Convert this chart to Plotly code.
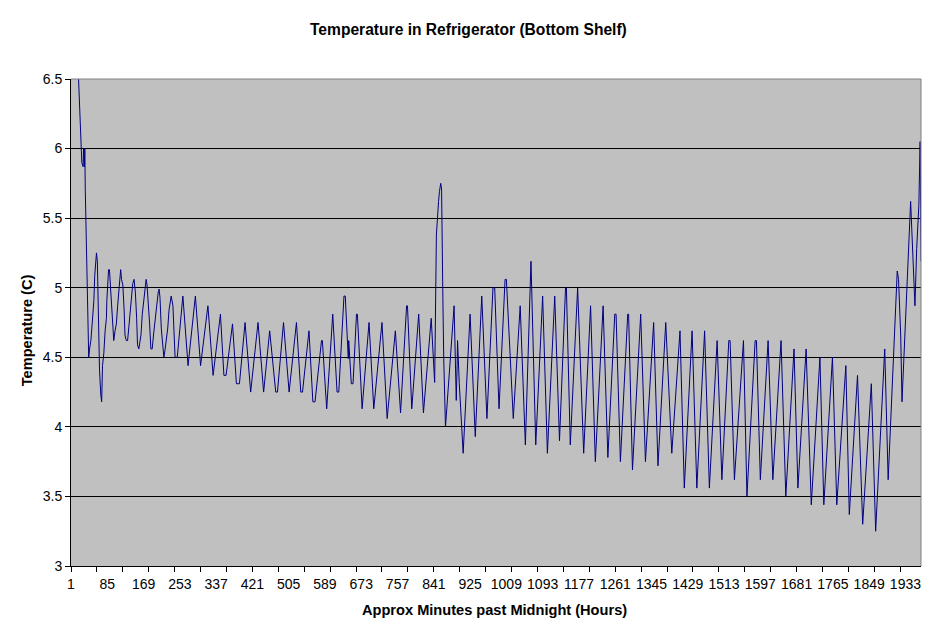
import plotly.graph_objects as go

# Approximate minutes past midnight (category index) and temperature readings (C),
# read off the reference at the turning points of each cycle.
minutes = [1, 18, 21, 24, 26, 29, 30, 32, 33, 34, 36, 38, 40, 42, 44, 47, 50, 52, 54, 56, 58, 60, 62, 64, 66, 67, 70, 72,
           74, 77, 80, 83, 84, 87, 88, 90, 93, 96, 98, 100, 103, 106, 109, 113, 116, 118, 121, 124, 126, 129, 132, 135,
           138, 142, 144, 147, 150, 153, 155, 158, 160, 163, 166, 170, 173, 175, 177, 180, 183, 186, 189, 192, 196, 199,
           203, 205, 207, 210, 213, 216, 219, 222, 225, 228, 231, 233, 237, 240, 242, 247,
           260, 272, 289, 301, 318, 330, 347, 355, 360, 375, 384, 391, 404, 417, 434, 447, 461, 475, 479, 493, 506,
           523, 533, 537, 552, 561, 566, 581, 583, 593, 607, 617, 621, 633, 636, 643, 644, 650, 654, 662, 664, 675,
           691, 702, 721, 733, 752, 764, 778, 780, 790, 806, 817, 835, 843, 847, 848, 850, 852, 854, 857, 859, 860,
           862, 864, 867, 868, 888, 892, 893, 895, 896, 900, 905, 909, 925, 937, 952, 964, 978, 982, 992, 1006, 1009,
           1025, 1041, 1053, 1066, 1077, 1093, 1104, 1121, 1132, 1146, 1148, 1157, 1174, 1188, 1204, 1215, 1233, 1244,
           1260, 1263, 1273, 1290, 1292, 1301, 1320, 1331, 1350, 1360, 1378, 1392, 1411, 1421, 1439, 1450, 1468, 1479,
           1497, 1508, 1524, 1527, 1537, 1558, 1566, 1585, 1588, 1597, 1615, 1626, 1645, 1656, 1675, 1684, 1703, 1715,
           1735, 1744, 1764, 1774, 1795, 1803, 1822, 1834, 1854, 1864, 1885, 1893, 1907, 1911, 1914, 1917, 1922, 1925,
           1943, 1945, 1955, 1959, 1964, 1967, 1969]
temps_c = [7.9, 6.52, 6.21, 6.04, 5.90, 5.87, 6.00, 5.87, 6.00, 5.71, 5.43, 5.12, 4.84, 4.50, 4.56, 4.62, 4.74, 4.81,
           4.91, 5.09, 5.15, 5.25, 5.19, 4.87, 4.62, 4.41, 4.23, 4.18,
           4.44, 4.53, 4.69, 4.78, 4.91, 5.03, 5.13, 5.13, 4.97, 4.80, 4.66, 4.62, 4.69, 4.74, 4.87, 5.03, 5.13, 5.06,
           5.02, 4.84, 4.66, 4.62, 4.62, 4.72,
           4.81, 4.97, 5.03, 5.06, 4.97, 4.78, 4.59, 4.56, 4.59, 4.66, 4.81, 4.91, 5.00, 5.06, 5.02, 4.91, 4.74, 4.56,
           4.56, 4.66, 4.78, 4.87,
           4.97, 4.99, 4.93, 4.71, 4.59, 4.50, 4.56, 4.62, 4.71, 4.84, 4.91, 4.94, 4.87, 4.66, 4.50, 4.50,
           4.94, 4.44, 4.94, 4.44, 4.87, 4.37, 4.81, 4.37, 4.37, 4.74, 4.31, 4.31, 4.75, 4.25, 4.75, 4.25, 4.69, 4.25,
           4.25, 4.75, 4.25,
           4.75, 4.25, 4.25, 4.69, 4.18, 4.18, 4.62, 4.62, 4.13, 4.81, 4.25, 4.25, 4.94, 4.94, 4.49, 4.62, 4.31, 4.31,
           4.81, 4.81, 4.13,
           4.75, 4.13, 4.75, 4.06, 4.69, 4.10, 4.87, 4.87, 4.13, 4.81, 4.10, 4.78, 4.32, 5.38, 5.44, 5.50, 5.62, 5.69,
           5.75, 5.71, 5.27,
           4.92, 4.49, 4.23, 4.00, 4.87, 4.44, 4.19, 4.44, 4.62, 4.31, 4.06, 3.81, 4.81, 3.93, 4.94, 4.06, 5.00, 5.00,
           4.13, 5.06, 5.06,
           4.06, 4.87, 3.87, 5.19, 3.87, 4.94, 3.81, 4.94, 3.90, 5.00, 5.00, 3.87, 5.00, 3.81, 4.87, 3.75, 4.87, 3.78,
           4.81, 4.81, 3.75, 4.81, 4.81, 3.69, 4.81, 3.75, 4.75, 3.72, 4.75, 3.81, 4.69, 3.56, 4.69, 3.56, 4.69, 3.56,
           4.62, 3.62, 4.62, 4.62, 3.62, 4.62, 3.50, 4.62, 4.62, 3.62, 4.62, 3.62, 4.62, 3.50, 4.56, 3.56, 4.56, 3.44,
           4.50, 3.44, 4.50, 3.44, 4.44, 3.37, 4.37, 3.30, 4.31, 3.25, 4.56, 3.62, 4.56, 4.87, 5.12, 5.06, 4.66, 4.18,
           5.55, 5.62, 4.87, 5.28, 5.59, 6.05, 5.19]

label_minutes = [1, 85, 169, 253, 337, 421, 505, 589, 673, 757, 841, 925, 1009, 1093, 1177, 1261, 1345, 1429,
                 1513, 1597, 1681, 1765, 1849, 1933]
label_text = [str(v) for v in label_minutes]
hour_ticks = list(range(1, 1969, 60))
y_ticks = [3, 3.5, 4, 4.5, 5, 5.5, 6, 6.5]

FONT = "Liberation Sans, Arial, sans-serif"
X_RANGE = [1, 1969]
TICK_SIZE = 14
TITLE_SIZE = 15.6
AXIS_TITLE_SIZE = 14.6

fig = go.Figure()
fig.add_trace(go.Scatter(x=minutes, y=temps_c, mode="lines",
                         line=dict(color="#000080", width=1), showlegend=False))
fig.add_trace(go.Scatter(x=[minutes[0]], y=[None], xaxis="x2", mode="lines",
                         showlegend=False, hoverinfo="skip"))

fig.update_layout(
    width=934, height=636,
    margin=dict(l=71, r=13, t=79, b=70),
    paper_bgcolor="white",
    plot_bgcolor="#C0C0C0",
    font=dict(family=FONT, size=TICK_SIZE, color="black"),
    xaxis=dict(range=X_RANGE, tickmode="array", tickvals=hour_ticks, ticks="outside", ticklen=5,
               tickcolor="black", showticklabels=False, showgrid=False, zeroline=False,
               showline=True, linecolor="black", linewidth=1),
    xaxis2=dict(range=X_RANGE, overlaying="x", anchor="y", side="bottom", tickmode="array",
                tickvals=label_minutes, ticktext=label_text, ticks="outside", ticklen=5,
                tickcolor="rgba(0,0,0,0)", showgrid=False, zeroline=False, showline=False,
                tickfont=dict(family=FONT, size=TICK_SIZE, color="black")),
    yaxis=dict(range=[3, 6.5], tickmode="array", tickvals=y_ticks, ticktext=[f"{v:g}" for v in y_ticks],
               ticks="outside", ticklen=5, tickcolor="black", showgrid=True, gridcolor="black", gridwidth=1,
               zeroline=False, showline=True, linecolor="black", linewidth=1,
               tickfont=dict(family=FONT, size=TICK_SIZE, color="black")),
    shapes=[
        dict(type="line", xref="paper", yref="paper", x0=0, x1=1, y0=1, y1=1,
             line=dict(color="#808080", width=1), layer="above"),
        dict(type="line", xref="paper", yref="paper", x0=1, x1=1, y0=0, y1=1,
             line=dict(color="#808080", width=1), layer="above"),
    ],
    annotations=[
        dict(text="<b>Temperature in Refrigerator (Bottom Shelf)</b>", xref="paper", yref="paper",
             x=0.4674, y=1.1007, xanchor="center", yanchor="middle", showarrow=False,
             font=dict(family=FONT, size=TITLE_SIZE, color="black")),
        dict(text="<b>Approx Minutes past Midnight (Hours)</b>", xref="paper", yref="paper",
             x=0.4986, y=-0.091, xanchor="center", yanchor="middle", showarrow=False,
             font=dict(family=FONT, size=AXIS_TITLE_SIZE, color="black")),
        dict(text="<b>Temperature (C)</b>", xref="paper", yref="paper", textangle=-90,
             x=-0.0518, y=0.484, xanchor="center", yanchor="middle", showarrow=False,
             font=dict(family=FONT, size=AXIS_TITLE_SIZE, color="black")),
    ],
)

fig.write_html("out.html")
